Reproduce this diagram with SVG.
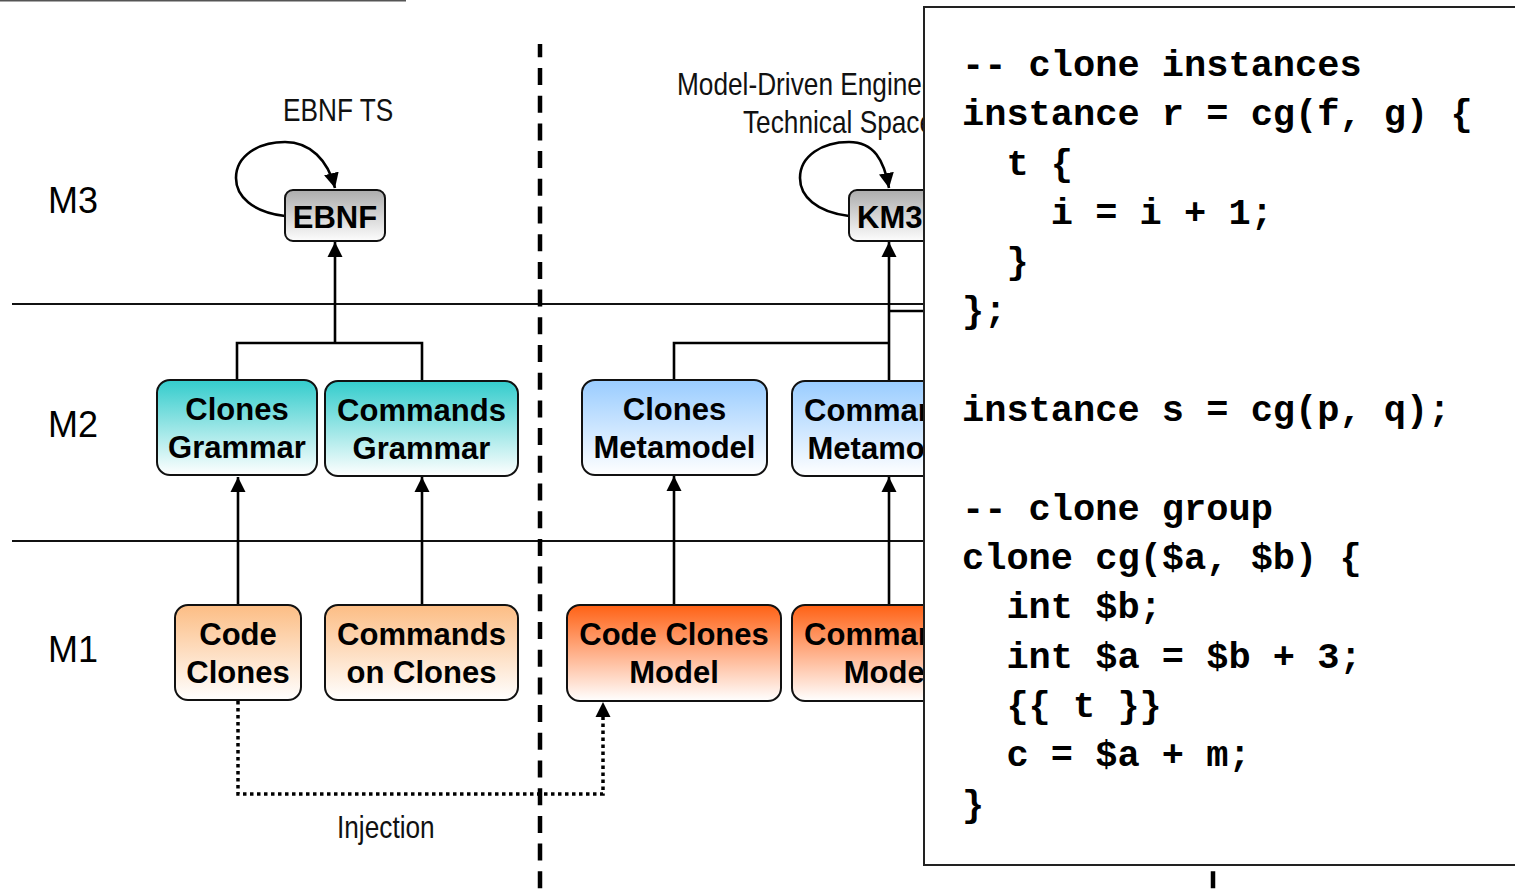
<svg xmlns="http://www.w3.org/2000/svg" width="1515" height="889" viewBox="0 0 1515 889">
<style>
.node rect{stroke:#111;stroke-width:2}
.nt{font-family:"Liberation Sans",Arial,sans-serif;font-weight:bold;font-size:31px;text-anchor:middle;fill:#000}
.lvl{font-family:"Liberation Sans",Arial,sans-serif;font-size:36px;fill:#000}
.nar{font-family:"Liberation Sans",Arial,sans-serif;font-size:32px;fill:#111}
.edge{fill:none;stroke:#000;stroke-width:2.6}
.sep{stroke:#111;stroke-width:2}
.code{font-family:"Liberation Mono","Courier New",monospace;font-weight:bold;font-size:37px;fill:#000;white-space:pre}
</style>
<defs>
<linearGradient id="gGrey" x1="0" y1="0" x2="0" y2="1"><stop offset="0" stop-color="#acacac"/><stop offset="1" stop-color="#fdfdfd"/></linearGradient>
<linearGradient id="gTeal" x1="0" y1="0" x2="0" y2="1"><stop offset="0" stop-color="#33cccc"/><stop offset="1" stop-color="#ffffff"/></linearGradient>
<linearGradient id="gBlue" x1="0" y1="0" x2="0" y2="1"><stop offset="0" stop-color="#99ccff"/><stop offset="1" stop-color="#ffffff"/></linearGradient>
<linearGradient id="gPeach" x1="0" y1="0" x2="0" y2="1"><stop offset="0" stop-color="#fcbd84"/><stop offset="1" stop-color="#ffffff"/></linearGradient>
<linearGradient id="gOrange" x1="0" y1="0" x2="0" y2="1"><stop offset="0" stop-color="#ff6114"/><stop offset="1" stop-color="#ffffff"/></linearGradient>
<marker id="arr" markerUnits="userSpaceOnUse" markerWidth="16" markerHeight="16" viewBox="0 0 16 16" refX="15" refY="8" orient="auto"><path d="M0,0.5 L15,8 L0,15.5 Z" fill="#000"/></marker>
</defs>
<rect width="1515" height="889" fill="#fff"/>
<line x1="0" y1="0.5" x2="406" y2="0.5" stroke="#555" stroke-width="2"/>

<g id="separators">
<line class="sep" x1="12" y1="304" x2="924" y2="304"/>
<line class="sep" x1="12" y1="541" x2="924" y2="541"/>
<line x1="540" y1="44" x2="540" y2="889" stroke="#000" stroke-width="4.5" stroke-dasharray="17 10.7" stroke-dashoffset="3.7"/>
<line x1="1213" y1="44" x2="1213" y2="889" stroke="#000" stroke-width="4.5" stroke-dasharray="17 10.7" stroke-dashoffset="3.7"/>
</g>

<g id="levels">
<text class="lvl" x="48" y="213">M3</text>
<text class="lvl" x="48" y="437">M2</text>
<text class="lvl" x="48" y="662">M1</text>
</g>

<g id="labels">
<text class="nar" transform="translate(283,121) scale(0.82,1)">EBNF TS</text>
<text class="nar" transform="translate(677,95) scale(0.82,1)">Model-Driven Engineering</text>
<text class="nar" transform="translate(743,133) scale(0.82,1)">Technical Space</text>
<text class="nar" transform="translate(337,838) scale(0.82,1)">Injection</text>
</g>

<g id="connectors">
<path class="edge" d="M285,216 C252,212 236,196 236,178 C236,156 258,142 285,142 C310,142 328,160 335,188" marker-end="url(#arr)"/>
<path class="edge" d="M849,216 C816,212 800,196 800,178 C800,156 822,142 849,142 C874,142 884,160 889,188" marker-end="url(#arr)"/>
<path class="edge" d="M237,380 V343 H422 V381"/>
<path class="edge" d="M335,343 V242" marker-end="url(#arr)"/>
<path class="edge" d="M238,605 V477" marker-end="url(#arr)"/>
<path class="edge" d="M422,605 V477" marker-end="url(#arr)"/>
<path class="edge" d="M674,380 V343 H889"/>
<path class="edge" d="M889,381 V242" marker-end="url(#arr)"/>
<path class="edge" d="M889,311 H924"/>
<path class="edge" d="M674,605 V476" marker-end="url(#arr)"/>
<path class="edge" d="M889,605 V477" marker-end="url(#arr)"/>
<path d="M238,701 V794 H603 V716" fill="none" stroke="#000" stroke-width="3.5" stroke-dasharray="3.5 3.5"/>
<path d="M603,716 V702" fill="none" stroke="none" marker-end="url(#arr)"/>
</g>

<g id="n-ebnf" class="node"><rect x="285" y="190" width="100" height="51" rx="8" fill="url(#gGrey)"/><text class="nt" x="335" y="228">EBNF</text></g>
<g id="n-km3" class="node"><rect x="849" y="190" width="100" height="51" rx="8" fill="url(#gGrey)"/><text class="nt" x="857" y="228" style="text-anchor:start">KM3</text></g>

<g id="n-clones-grammar" class="node"><rect x="157" y="380" width="160" height="95" rx="13" fill="url(#gTeal)"/><text class="nt" x="237" y="420">Clones</text><text class="nt" x="237" y="458">Grammar</text></g>
<g id="n-commands-grammar" class="node"><rect x="325" y="381" width="193" height="95" rx="13" fill="url(#gTeal)"/><text class="nt" x="421.5" y="421">Commands</text><text class="nt" x="421.5" y="459">Grammar</text></g>
<g id="n-clones-metamodel" class="node"><rect x="582" y="380" width="185" height="95" rx="13" fill="url(#gBlue)"/><text class="nt" x="674.5" y="420">Clones</text><text class="nt" x="674.5" y="458">Metamodel</text></g>
<g id="n-commands-metamodel" class="node"><rect x="792" y="381" width="193" height="95" rx="13" fill="url(#gBlue)"/><text class="nt" x="888.5" y="421">Commands</text><text class="nt" x="888.5" y="459">Metamodel</text></g>

<g id="n-code-clones" class="node"><rect x="175" y="605" width="126" height="95" rx="13" fill="url(#gPeach)"/><text class="nt" x="238" y="645">Code</text><text class="nt" x="238" y="683">Clones</text></g>
<g id="n-commands-on-clones" class="node"><rect x="325" y="605" width="193" height="95" rx="13" fill="url(#gPeach)"/><text class="nt" x="421.5" y="645">Commands</text><text class="nt" x="421.5" y="683">on Clones</text></g>
<g id="n-code-clones-model" class="node"><rect x="567" y="605" width="214" height="96" rx="13" fill="url(#gOrange)"/><text class="nt" x="674" y="645">Code Clones</text><text class="nt" x="674" y="683">Model</text></g>
<g id="n-commands-model" class="node"><rect x="792" y="605" width="193" height="96" rx="13" fill="url(#gOrange)"/><text class="nt" x="888.5" y="645">Commands</text><text class="nt" x="888.5" y="683">Model</text></g>

<g id="code-box">
<rect x="924" y="7" width="600" height="858" fill="#fff" stroke="#222" stroke-width="2"/>
<text class="code" x="962" y="76">-- clone instances</text>
<text class="code" x="962" y="125">instance r = cg(f, g) {</text>
<text class="code" x="1006.4" y="175">t {</text>
<text class="code" x="1050.8" y="224">i = i + 1;</text>
<text class="code" x="1006.4" y="273">}</text>
<text class="code" x="962" y="322">};</text>
<text class="code" x="962" y="421">instance s = cg(p, q);</text>
<text class="code" x="962" y="520">-- clone group</text>
<text class="code" x="962" y="569">clone cg($a, $b) {</text>
<text class="code" x="1006.4" y="618">int $b;</text>
<text class="code" x="1006.4" y="668">int $a = $b + 3;</text>
<text class="code" x="1006.4" y="717">{{ t }}</text>
<text class="code" x="1006.4" y="766">c = $a + m;</text>
<text class="code" x="962" y="816">}</text>
</g>
</svg>
